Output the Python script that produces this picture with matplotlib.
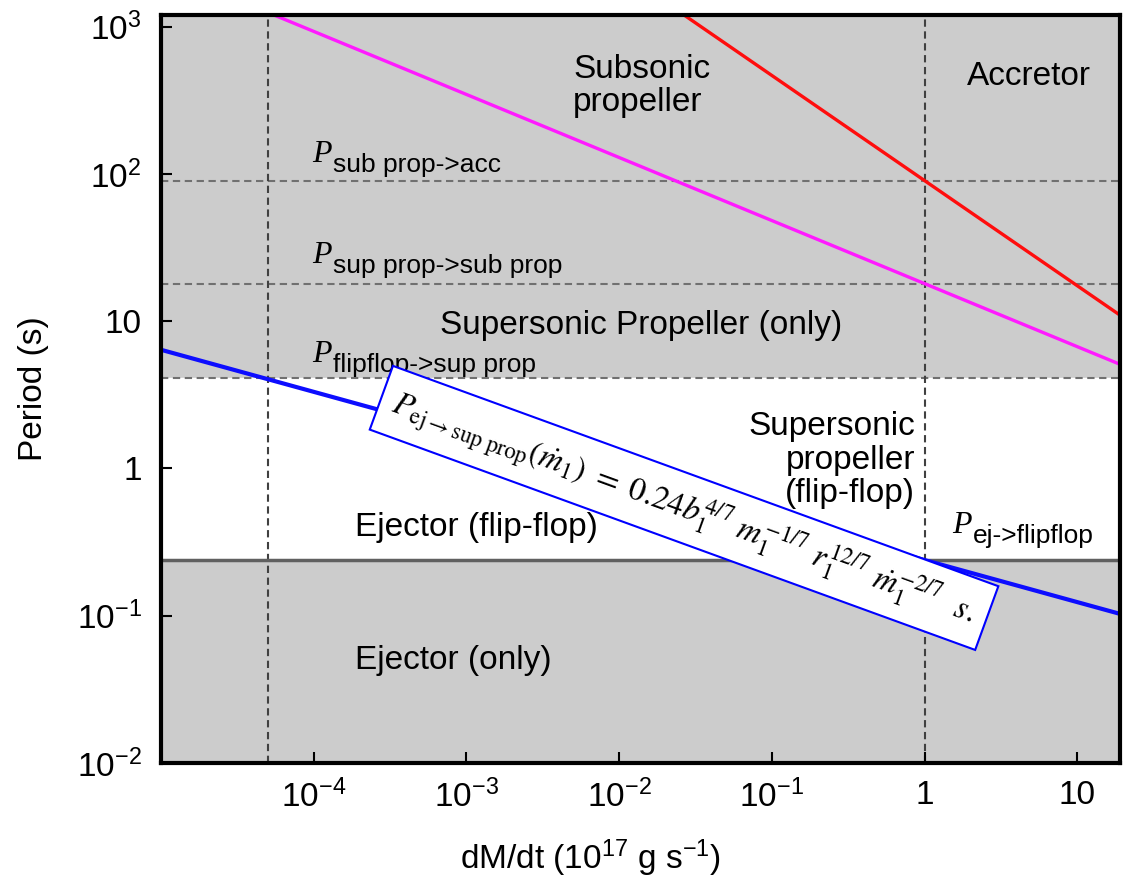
import matplotlib
matplotlib.use("Agg")
import matplotlib.pyplot as plt
from matplotlib.ticker import FixedLocator, FixedFormatter, NullLocator

plt.rcParams["font.family"] = ["Liberation Sans", "DejaVu Sans"]
plt.rcParams["mathtext.fontset"] = "custom"
plt.rcParams["mathtext.rm"] = "Liberation Sans"
plt.rcParams["mathtext.it"] = "Liberation Sans:italic"
plt.rcParams["mathtext.bf"] = "Liberation Sans:bold"

# axis ranges and ticks
x_lim = (1e-5, 19)
y_lim = (1e-2, 1.2e3)
x_ticks = [1e-4, 1e-3, 1e-2, 1e-1, 1, 10]
x_tick_labels = [r"$\mathregular{10^{-4}}$", r"$\mathregular{10^{-3}}$", r"$\mathregular{10^{-2}}$",
                 r"$\mathregular{10^{-1}}$", "1", "10"]
y_ticks = [1e-2, 1e-1, 1, 10, 1e2, 1e3]
y_tick_labels = [r"$\mathregular{10^{-2}}$", r"$\mathregular{10^{-1}}$", "1", "10",
                 r"$\mathregular{10^{2}}$", r"$\mathregular{10^{3}}$"]

# boundary lines (straight in log-log)
red_x = [0.0266, 19]
red_y = [1200, 11.0]
magenta_x = [5.5e-5, 19]
magenta_y = [1200, 5.1]
blue_x = [1e-5, 19]
blue_y = [6.4, 0.103]

# critical periods / accretion rates
p_sub_acc = 90
p_sup_sub = 18
p_flip_sup = 4.1
p_ej_flip = 0.24
mdot_marks = [5e-5, 1]

fig = plt.figure(figsize=(11.24, 8.94), dpi=100)
ax = fig.add_axes([0.1432, 0.1465, 0.8532, 0.8367])
ax.set_xscale("log")
ax.set_yscale("log")
ax.set_xlim(x_lim)
ax.set_ylim(y_lim)

ax.set_facecolor("#cccccc")
ax.axhspan(p_ej_flip, p_flip_sup, color="white", zorder=0.5)

for p in [p_sub_acc, p_sup_sub, p_flip_sup]:
    ax.axhline(p, color="#707070", lw=1.5, ls=(0, (3.5, 2.2)), zorder=1)
for m in mdot_marks:
    ax.axvline(m, color="#404040", lw=1.5, ls=(0, (3.5, 2.2)), zorder=1)
ax.axhline(p_ej_flip, color="#606060", lw=2.5, zorder=1)

ax.plot(red_x, red_y, color="#ff0d0d", lw=2.4, zorder=3)
ax.plot(magenta_x, magenta_y, color="#ff1aff", lw=2.4, zorder=3)
ax.plot(blue_x, blue_y, color="#0d0dff", lw=3, zorder=3)

# region names
fs = 24
ax.text(5e-3, 395, "Subsonic\npropeller", fontsize=fs, ha="left", va="center", linespacing=1.05)
ax.text(1.9, 462, "Accretor", fontsize=fs, ha="left", va="center")
ax.text(6.7e-4, 9.3, "Supersonic Propeller (only)", fontsize=fs, ha="left", va="center")
ax.text(0.865, 1.14, "Supersonic\npropeller\n(flip-flop)", fontsize=fs, ha="right",
        va="center", multialignment="right", linespacing=1.1)
ax.text(1.87e-4, 0.40, "Ejector (flip-flop)", fontsize=fs, ha="left", va="center")
ax.text(1.87e-4, 0.050, "Ejector (only)", fontsize=fs, ha="left", va="center")

# critical period labels: serif italic P + sans subscript
p_labels = [
    (9.75e-5, 103, "sub prop->acc"),
    (9.75e-5, 21.2, "sup prop->sub prop"),
    (9.75e-5, 4.52, "flipflop->sup prop"),
    (1.51, 0.313, "ej->flipflop"),
]
for px, py, sub in p_labels:
    ax.annotate("P", (px, py), xytext=(0, 7), textcoords="offset points",
                family="Liberation Serif", style="italic", fontsize=23,
                ha="left", va="baseline", zorder=4)
    ax.annotate(sub, (px, py), xytext=(15, 0), textcoords="offset points",
                fontsize=19, ha="left", va="baseline", zorder=4)

# formula box
formula = (r"$P_{\mathrm{ej}\rightarrow\mathrm{sup\ prop}}(\dot{m}_1)\ =\ \mathit{0.24}b_1^{4/7}\ "
           r"m_1^{-1/7}\ r_1^{12/7}\ \dot{m}_1^{-2/7}\ \ s.$")
ax.text(0.0266, 0.54, formula, fontsize=23.5, math_fontfamily="stix", rotation=-20,
        rotation_mode="anchor", ha="center", va="center", zorder=5,
        bbox=dict(boxstyle="square,pad=0.4", fc="white", ec="#0000ff", lw=1.5))

ax.xaxis.set_major_locator(FixedLocator(x_ticks))
ax.xaxis.set_major_formatter(FixedFormatter(x_tick_labels))
ax.yaxis.set_major_locator(FixedLocator(y_ticks))
ax.yaxis.set_major_formatter(FixedFormatter(y_tick_labels))
ax.xaxis.set_minor_locator(NullLocator())
ax.yaxis.set_minor_locator(NullLocator())
ax.tick_params(which="both", direction="in", length=8, width=1.5, labelsize=24,
               top=False, right=False)
ax.tick_params(axis="x", pad=12)
ax.tick_params(axis="y", pad=14)

for s in ax.spines.values():
    s.set_linewidth(3)
    s.set_color("black")
    s.set_zorder(6)

ax.set_xlabel(r"dM/dt (10$^{17}$ g s$^{-1}$)", fontsize=24)
ax.set_ylabel("Period (s)", fontsize=24)
ax.xaxis.set_label_coords(0.448, -0.10)
ax.yaxis.set_label_coords(-0.117, 0.50)

fig.savefig("out.png", dpi=100)
